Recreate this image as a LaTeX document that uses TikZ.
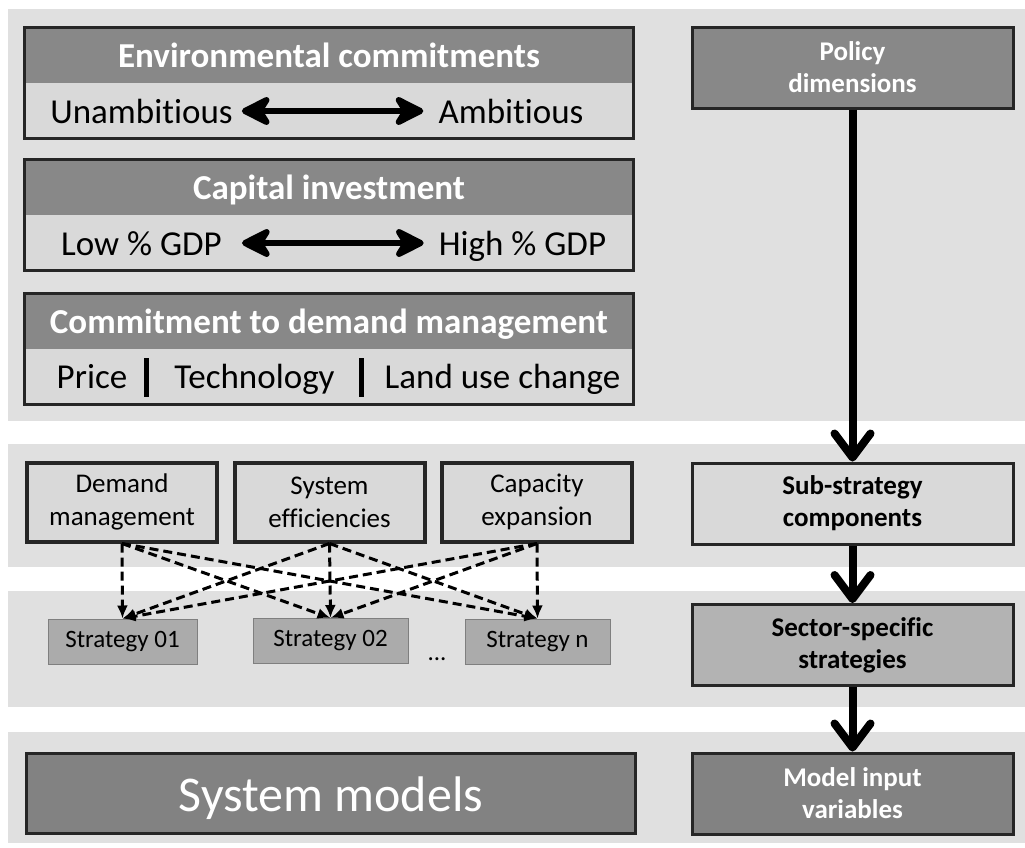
\documentclass[tikz,border=0pt]{standalone}
\usepackage{fontspec}
\setmainfont[Ligatures=NoCommon]{Carlito}
\usetikzlibrary{arrows.meta}
\definecolor{bandgray}{HTML}{E0E0E0}
\definecolor{headgray}{HTML}{888888}
\definecolor{lightbox}{HTML}{D9D9D9}
\definecolor{stratgray}{HTML}{ABABAB}
\definecolor{stratedge}{HTML}{7F7F7F}
\definecolor{sectorgray}{HTML}{B3B3B3}
\definecolor{darkbox}{HTML}{828282}
\definecolor{edgegray}{HTML}{262626}
\begin{document}
\begin{tikzpicture}[x=1pt,y=-1pt,
  band/.style={fill=bandgray},
  headbox/.style={rectangle, fill=headgray, text=white, font=\bfseries\fontsize{35}{40}\selectfont,
    minimum width=608pt, minimum height=55pt, inner sep=0pt, text height=25pt, text depth=2pt},
  lowbox/.style={rectangle, fill=lightbox, minimum width=608pt, minimum height=55pt, inner sep=0pt},
  outline/.style={draw=edgegray, line width=3pt},
  subtxt/.style={font=\fontsize{35}{40}\selectfont, inner sep=0pt, anchor=base},
  dblarrow/.style={line width=6pt, {Stealth[length=36pt,width=36pt,inset=11pt,round]}-{Stealth[length=36pt,width=36pt,inset=11pt,round]}},
  sepbar/.style={rectangle, fill=black, minimum width=5pt, minimum height=39pt, inner sep=0pt},
  rightbox/.style={rectangle, draw=edgegray, line width=3pt, minimum width=321pt, minimum height=81pt,
    align=center, font=\bfseries\fontsize{27}{32}\selectfont, inner sep=0pt},
  compbox/.style={rectangle, draw=edgegray, fill=lightbox, line width=4pt, minimum width=190pt, minimum height=79pt,
    align=center, font=\fontsize{27}{33}\selectfont, inner sep=0pt},
  stratbox/.style={rectangle, draw=stratedge, fill=stratgray, line width=1pt, minimum height=45pt,
    font=\fontsize{25}{30}\selectfont, inner sep=0pt},
  bigarrow/.style={line width=8pt, -{Straight Barb[length=24pt,width=36pt,round]}},
  dasharrow/.style={line width=3pt, dash pattern=on 9pt off 5pt, -{Latex[length=13pt,width=11pt]}}
]
\useasboundingbox (0,0) rectangle (1025,847);
% background bands
\fill[band] (8,9) rectangle (1025,421);
\fill[band] (8,444) rectangle (1025,567);
\fill[band] (8,591) rectangle (1025,707);
\fill[band] (8,732) rectangle (1025,843);

% Environmental commitments
\node[headbox] (envh) at (329,55.5) {Environmental commitments};
\node[lowbox] (envl) at (329,110.5) {};
\draw[outline] (envh.north west) rectangle (envl.south east);
\node[subtxt] (unamb) at (141.5,123) {Unambitious};
\node[subtxt] (amb) at (511,123) {Ambitious};
\draw[dblarrow, shorten <=9pt, shorten >=15pt] ([yshift=12pt]unamb.base east) -- ([yshift=12pt]amb.base west);

% Capital investment
\node[headbox] (caph) at (329,187.5) {Capital investment};
\node[lowbox] (capl) at (329,242.5) {};
\draw[outline] (caph.north west) rectangle (capl.south east);
\node[subtxt] (low) at (141.5,255) {Low \% GDP};
\node[subtxt] (high) at (522.5,255) {High \% GDP};
\draw[dblarrow, shorten <=20pt, shorten >=15pt] ([yshift=12pt]low.base east) -- ([yshift=12pt]high.base west);

% Commitment to demand management
\node[headbox] (comh) at (329,321.5) {Commitment to demand management};
\node[lowbox] (coml) at (329,376.5) {};
\draw[outline] (comh.north west) rectangle (coml.south east);
\node[subtxt] (price) at (92,388) {Price};
\node[subtxt] (tech) at (254.5,388) {Technology};
\node[subtxt] (land) at (502.5,388) {Land use change};
\node[sepbar] (bar1) at (146,377.5) {};
\node[sepbar] (bar2) at (361,377.5) {};

% right column
\node[rightbox, fill=headgray, text=white] (policy) at (852.5,67.5) {Policy\\dimensions};
\node[rightbox, fill=lightbox] (sub) at (852.5,503.5) {Sub-strategy\\components};
\node[rightbox, fill=sectorgray] (sector) at (852.5,645) {Sector-specific\\strategies};
\node[rightbox, fill=darkbox, text=white] (model) at (852.5,793.5) {Model input\\variables};
\draw[bigarrow] (policy.south) -- (sub.north);
\draw[bigarrow] (sub.south) -- (sector.north);
\draw[bigarrow] (sector.south) -- (model.north);

% sub-strategy components
\node[compbox] (dm) at (122,502) {Demand\\management};
\node[compbox] (se) at (329.5,502) {System\\efficiencies};
\node[compbox] (ce) at (537,502) {Capacity\\expansion};

% strategies
\node[stratbox, minimum width=149pt] (s1) at (122.5,641.5) {Strategy 01};
\node[stratbox, minimum width=155pt] (s2) at (330.5,641) {Strategy 02};
\node[stratbox, minimum width=145pt] (sn) at (537.5,641.5) {Strategy n};
\node[font=\fontsize{25}{30}\selectfont, inner sep=0pt, anchor=base] (dots) at (437,660) {...};

\foreach \src in {dm,se,ce}{
  \foreach \dst in {s1,s2,sn}{
    \draw[dasharrow] (\src.south) -- (\dst.north);
  }
}

% system models
\node[rectangle, draw=edgegray, fill=darkbox, line width=3pt, minimum width=609pt, minimum height=80pt,
  text=white, font=\fontsize{50}{60}\selectfont, inner sep=0pt, text height=36pt, text depth=0pt] (sysm) at (331,793) {System models};
\end{tikzpicture}
\end{document}
